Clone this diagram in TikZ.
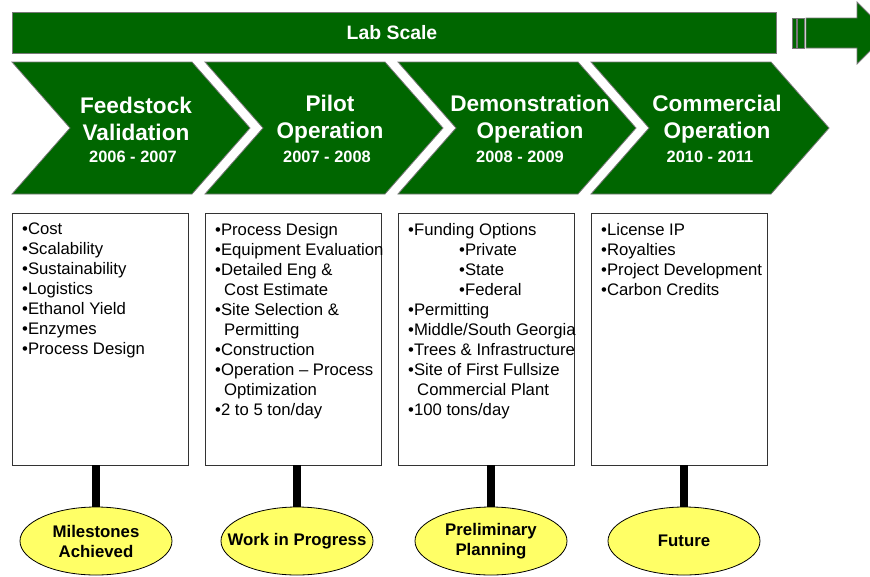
\documentclass[tikz,border=0pt]{standalone}
\usepackage{fontspec}
\setmainfont{Liberation Sans}
\usetikzlibrary{shapes.geometric,positioning,calc}

\definecolor{phasegreen}{RGB}{0,102,0}
\definecolor{rimgray}{RGB}{120,120,120}
\definecolor{tagyellow}{RGB}{255,255,102}

\begin{document}
\begin{tikzpicture}[
    x=1pt, y=-1pt,
    bar/.style={fill=phasegreen, draw=rimgray, line width=0.8pt},
    chev/.style={fill=phasegreen, draw=rimgray, line width=0.8pt},
    ttl/.style={text=white, font=\bfseries\fontsize{22.6}{27}\selectfont, align=center, inner sep=0},
    yr/.style={text=white, font=\bfseries\fontsize{16.4}{18}\selectfont, inner sep=0},
    listbox/.style={rectangle, draw=black!80, fill=white, line width=0.6pt, minimum width=176pt, minimum height=252pt, inner sep=0},
    listtext/.style={anchor=north west, align=left, inner sep=0, font=\fontsize{16.7}{20}\selectfont},
    tag/.style={ellipse, draw=black, fill=tagyellow, line width=0.8pt, minimum width=152pt, minimum height=68pt, inner sep=0, align=center, font=\bfseries\fontsize{16.8}{20}\selectfont},
    stem/.style={line width=8pt, black}
]
    \clip (0,0) rectangle (870,576);

    % lab scale bar and arrow
    \draw[bar] (12,12) rectangle (776,53);
    \node[text=white, font=\bfseries\fontsize{19.4}{22}\selectfont] (lab) at (392,33) {Lab Scale};
    \draw[bar] (792,18) rectangle (796,48);
    \draw[bar] (797,18) rectangle (804,48);
    \draw[bar] (806,18) -- (857,18) -- (857,2) -- (888,33) -- (857,64) -- (857,48) -- (806,48) -- cycle;

    % chevrons
    \foreach \x in {12,205,398,591}
        \draw[chev] (\x,62) -- ++(180,0) -- ++(58,66) -- ++(-58,66) -- ++(-180,0) -- ++(58,-66) -- cycle;

    \node[ttl] (ttl1) at (136,119) {Feedstock\\Validation};
    \node[yr]  (yr1)  at (133,157) {2006 - 2007};
    \node[ttl] (ttl2) at (330,119) {Pilot\\Operation};
    \node[yr]  (yr2)  at (327,157) {2007 - 2008};
    \node[ttl] (ttl3) at (530,119) {Demonstration\\Operation};
    \node[yr]  (yr3)  at (520,157) {2008 - 2009};
    \node[ttl] (ttl4) at (717,119) {Commercial\\Operation};
    \node[yr]  (yr4)  at (710,157) {2010 - 2011};

    % lists
    \node[listbox] (box1) at (100,339) {};
    \node[listbox] (box2) at (293,339) {};
    \node[listbox] (box3) at (486,339) {};
    \node[listbox] (box4) at (679,339) {};

    \node[listtext] (list1) at (22,223) {•Cost\\•Scalability\\•Sustainability\\•Logistics\\•Ethanol Yield\\•Enzymes\\•Process Design};
    \node[listtext] (list2) at (215,223) {•Process Design\\•Equipment Evaluation\\•Detailed Eng \&\\\hspace*{9pt}Cost Estimate\\•Site Selection \&\\\hspace*{9pt}Permitting\\•Construction\\•Operation – Process\\\hspace*{9pt}Optimization\\•2 to 5 ton/day};
    \node[listtext] (list3) at (408,223) {•Funding Options\\\hspace*{51pt}•Private\\\hspace*{51pt}•State\\\hspace*{51pt}•Federal\\•Permitting\\•Middle/South Georgia\\•Trees \& Infrastructure\\•Site of First Fullsize\\\hspace*{9pt}Commercial Plant\\•100 tons/day};
    \node[listtext] (list4) at (601,223) {•License IP\\•Royalties\\•Project Development\\•Carbon Credits};

    % status tags
    \node[tag] (tag1) at (96,541) {Milestones\\Achieved};
    \node[tag] (tag2) at (297,541) {\makebox[100pt]{Work in Progress}};
    \node[tag] (tag3) at (491,541) {Preliminary\\Planning};
    \node[tag] (tag4) at (684,541) {Future};

    \draw[stem] (tag1.north |- box1.south) -- (tag1.north);
    \draw[stem] (tag2.north |- box2.south) -- (tag2.north);
    \draw[stem] (tag3.north |- box3.south) -- (tag3.north);
    \draw[stem] (tag4.north |- box4.south) -- (tag4.north);
\end{tikzpicture}
\end{document}
